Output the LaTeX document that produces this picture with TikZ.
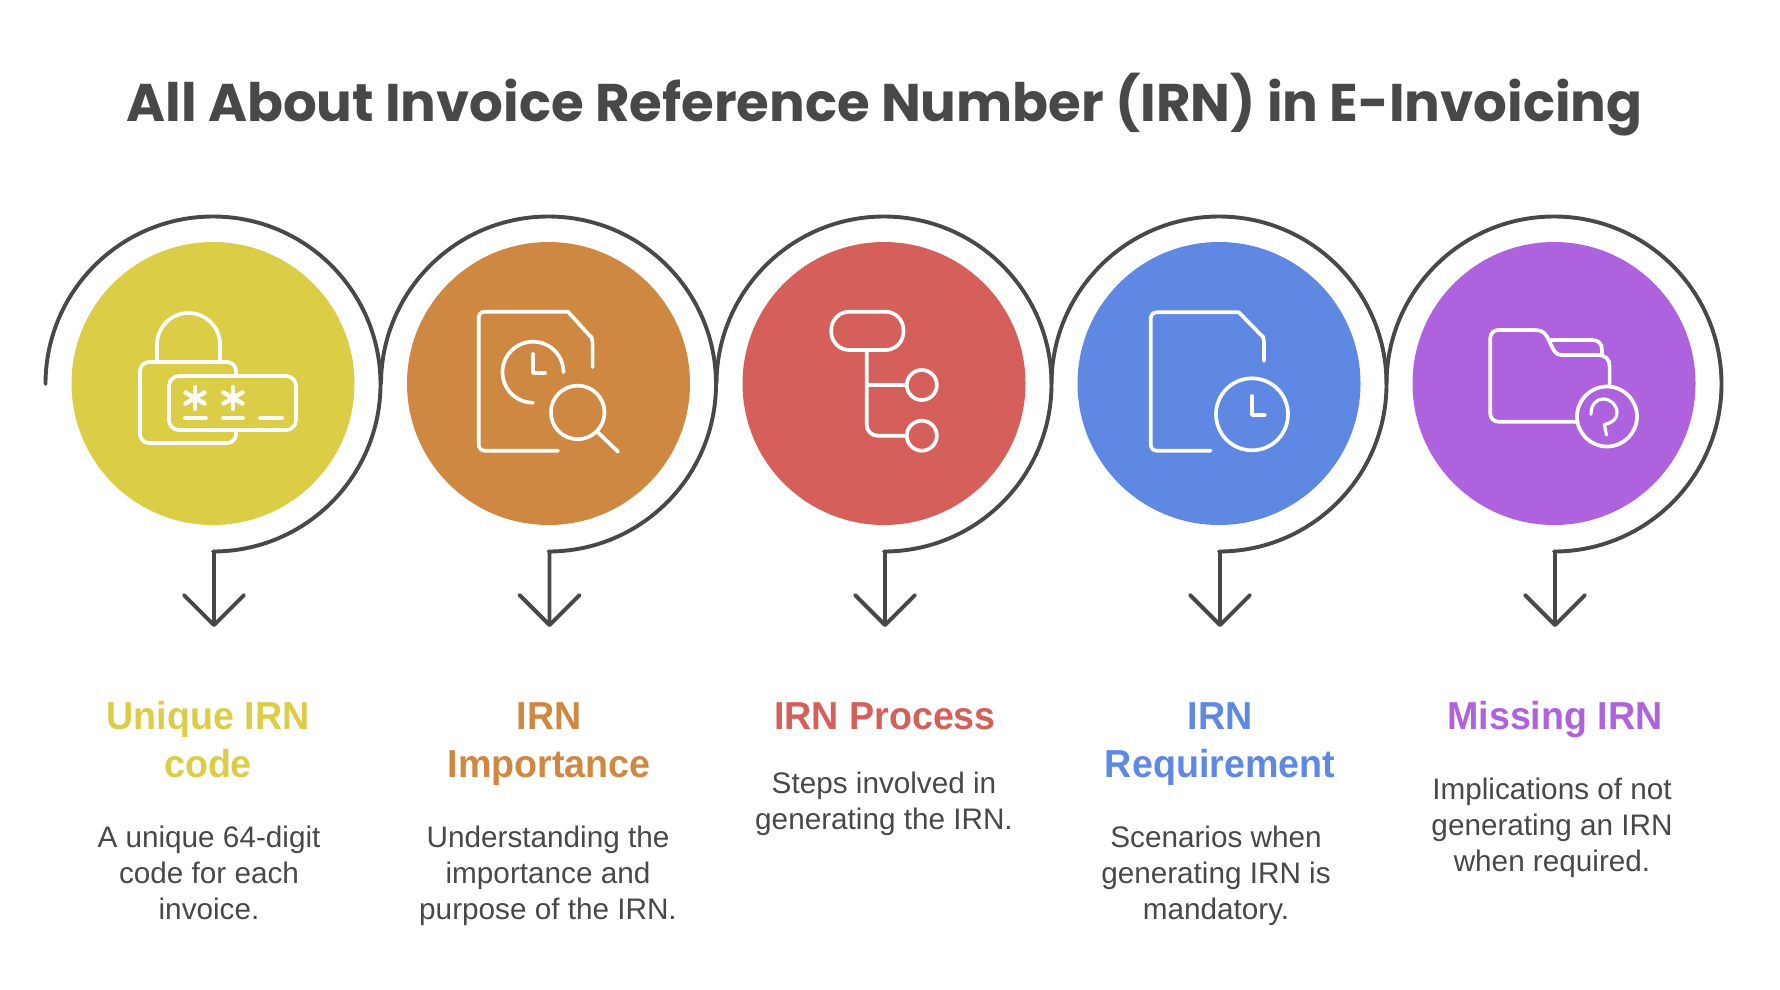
\documentclass[tikz,border=0pt]{standalone}
\usepackage{fontspec}
\setmainfont{Liberation Sans}
\newfontfamily\titlefont{Poppins}[BoldFont=* Bold]
\newfontfamily\headfont{Liberation Sans Bold}[FakeStretch=0.965]
\newfontfamily\bodyfont{Liberation Sans}
\definecolor{cyel}{HTML}{DCCD47}
\definecolor{corg}{HTML}{CF8842}
\definecolor{cred}{HTML}{D5605B}
\definecolor{cblu}{HTML}{5E88E2}
\definecolor{cpur}{HTML}{AE62DE}
\definecolor{cdark}{HTML}{484848}
\tikzset{
  disc/.style={circle,fill=#1,draw=none,minimum size=283pt,inner sep=0pt},
  loopline/.style={draw=cdark,line width=3.9pt,line cap=round,line join=round},
  icon/.style={draw=white,line width=3.7pt,line cap=round,line join=round},
  headtext/.style={anchor=north,inner sep=0pt,align=center,text=#1,font=\headfont\fontsize{39}{48}\selectfont},
  bodytext/.style={anchor=north,inner sep=0pt,align=center,text=cdark,font=\bodyfont\fontsize{29.7}{36}\selectfont},
}
\newcommand\hs{\rule{0pt}{30pt}}
\newcommand\bs{\rule{0pt}{20pt}}
\begin{document}
\begin{tikzpicture}[x=1pt,y=-1pt]
\useasboundingbox (0,0) rectangle (1780,989);
\node[anchor=base,inner sep=0pt,text=cdark,font=\titlefont\bfseries\fontsize{53}{60}\selectfont] (title) at (884.5,121) {All About Invoice Reference Number (IRN) in E-Invoicing};
% discs
\node[disc=cyel] (c1) at (213,383.5) {};
\node[disc=corg] (c2) at (548.5,383.5) {};
\node[disc=cred] (c3) at (884,383.5) {};
\node[disc=cblu] (c4) at (1219,383.5) {};
\node[disc=cpur] (c5) at (1554,383.5) {};
% loops and arrows
\foreach \n/\cx in {1/213,2/548.5,3/884,4/1219,5/1554}{
  \coordinate (s\n) at (\cx-167.5,384);
  \coordinate (t\n) at (\cx+1,625);
  \draw[loopline] (s\n) arc[start angle=180,end angle=450,radius=167.5] -- ++(1,0) -- (t\n);
  \draw[loopline] ([xshift=-30pt,yshift=30pt]t\n) -- (t\n) -- ([xshift=30pt,yshift=30pt]t\n);
}
% icon 1: lock and password
\draw[icon] (157,362) -- (157,344.5) arc[start angle=180,end angle=360,radius=31.5] -- (220,362);
\draw[icon,rounded corners=9pt] (236,376) -- (236,362) -- (140,362) -- (140,443) -- (236,443) -- (236,430);
\draw[icon,rounded corners=10pt] (169,376) rectangle (296,430);
\foreach \sx in {195,233}{
  \draw[icon,line width=4.4pt] (\sx,387) -- (\sx,409);
  \draw[icon,line width=4.4pt] (\sx-9.5,392.5) -- (\sx+9.5,403.5);
  \draw[icon,line width=4.4pt] (\sx-9.5,403.5) -- (\sx+9.5,392.5);
}
\draw[icon] (185,418) -- (206,418);
\draw[icon] (223,418) -- (243,418);
\draw[icon] (260,418) -- (282,418);
% icon 2: document, clock, magnifier
\draw[icon,rounded corners=6pt] (558,450.7) -- (478.7,450.7) -- (478.7,311.7) -- (568,311.7);
\draw[icon] (568,311.7) -- (590,336) to[out=50,in=-90] (592.6,342) -- (592.6,367);
\draw[icon] (533,402.7) arc[start angle=90,end angle=360,radius=30.5];
\draw[icon] (533,354) -- (533,373) -- (545,373);
\draw[icon] (577.7,412.4) circle[radius=26.8];
\draw[icon] (597,431.5) -- (618,451.7);
% icon 3: tree
\draw[icon,rounded corners=18pt] (831.3,311.7) rectangle (903.4,350);
\draw[icon,rounded corners=11pt] (866.7,350) -- (866.7,435.7) -- (905.7,435.7);
\draw[icon] (866.7,385) -- (905.7,385);
\draw[icon] (921.8,385) circle[radius=15];
\draw[icon] (921.8,435.7) circle[radius=15];
% icon 4: document, clock
\draw[icon,rounded corners=6pt] (1210.6,450.7) -- (1150.7,450.7) -- (1150.7,312.3) -- (1238.8,312.3);
\draw[icon] (1238.8,312.3) -- (1262,336) to[out=50,in=-90] (1264,342) -- (1264,361);
\draw[icon] (1252,414.3) circle[radius=36];
\draw[icon] (1252,396) -- (1252,415) -- (1264.8,415);
% icon 5: folder, question mark
\draw[icon,rounded corners=8pt] (1576,421.7) -- (1490.3,421.7) -- (1490.3,330) -- (1533.6,330);
\draw[icon] (1533.6,330) .. controls (1545,330) and (1546,335) .. (1548.8,340) .. controls (1553,349) and (1555,355) .. (1561,355) -- (1598,355) .. controls (1605,355) and (1609.6,359) .. (1609.6,366) -- (1609.6,386.7);
\draw[icon] (1548.8,340) -- (1592,340) .. controls (1599,340) and (1602,344) .. (1602,350) -- (1602,355);
\draw[icon] (1607,416.5) circle[radius=30];
\draw[icon,line width=3.2pt] (1591,414.3) .. controls (1591,405) and (1596,399) .. (1603,399) .. controls (1611,399) and (1617,405) .. (1617,413) .. controls (1617,419) and (1612,423) .. (1604.3,424.5) -- (1606.5,435);
% labels
\node[headtext=cyel] (h1) at (208,699.5) {\hs Unique IRN\\code};
\node[headtext=corg] (h2) at (549,699.5) {\hs IRN\\Importance};
\node[headtext=cred] (h3) at (885,699.5) {\hs IRN Process};
\node[headtext=cblu] (h4) at (1220,699.5) {\hs IRN\\Requirement};
\node[headtext=cpur] (h5) at (1555,699.5) {\hs Missing IRN};
\node[bodytext] (d1) at (209,825.7) {\bs A unique 64-digit\\code for each\\invoice.};
\node[bodytext] (d2) at (548,825.7) {\bs Understanding the\\importance and\\purpose of the IRN.};
\node[bodytext] (d3) at (884,772) {\bs Steps involved in\\generating the IRN.};
\node[bodytext] (d4) at (1216,825.7) {\bs Scenarios when\\generating IRN is\\mandatory.};
\node[bodytext] (d5) at (1552,777.8) {\bs Implications of not\\generating an IRN\\when required.};
\end{tikzpicture}
\end{document}
